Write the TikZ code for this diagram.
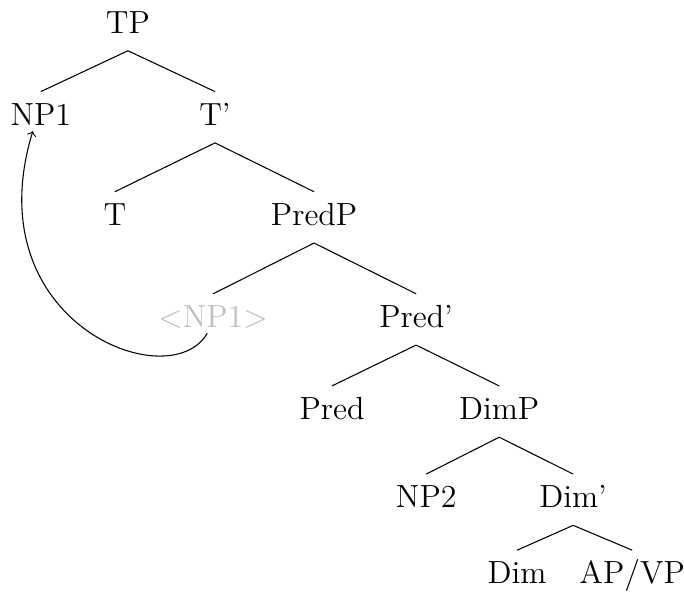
\documentclass[tikz,border=0pt]{standalone}
\usepackage{tikz}
\usetikzlibrary{positioning}

\begin{document}
\begin{tikzpicture}[
    on grid,
    every node/.style={font=\large, inner sep=4pt, text height=8.4pt, text depth=2.4pt},
    trace/.style={text=black!25},
    branch/.style={line width=0.4pt},
    move/.style={->, line width=0.4pt}
]
\useasboundingbox (-47.9pt,9.4pt) rectangle (208.2pt,-214.2pt);
\node (tp) at (0,0) {TP};
\node[below left=34.5pt and 32.6pt of tp] (np1) {NP1};
\node[below right=34.5pt and 32.6pt of tp] (tbar) {T'};
\node[below left=37.5pt and 37.5pt of tbar] (t) {T};
\node[below right=37.5pt and 37.1pt of tbar] (predp) {PredP};
\node[trace, below left=38.2pt and 37.8pt of predp] (np1trace) {$<$NP1$>$};
\node[below right=38.2pt and 38.2pt of predp] (predbar) {Pred'};
\node[below left=34.5pt and 31.5pt of predbar] (pred) {Pred};
\node[below right=34.5pt and 31.1pt of predbar] (dimp) {DimP};
\node[below left=33pt and 27.3pt of dimp] (np2) {NP2};
\node[below right=33pt and 27.7pt of dimp] (dimbar) {Dim'};
\node[below left=28.5pt and 21pt of dimbar] (dim) {Dim};
\node[below right=28.5pt and 22.1pt of dimbar] (apvp) {AP/VP};
\draw[branch] (tp.south) -- (np1.north);
\draw[branch] (tp.south) -- (tbar.north);
\draw[branch] (tbar.south) -- (t.north);
\draw[branch] (tbar.south) -- (predp.north);
\draw[branch] (predp.south) -- (np1trace.north);
\draw[branch] (predp.south) -- (predbar.north);
\draw[branch] (predbar.south) -- (pred.north);
\draw[branch] (predbar.south) -- (dimp.north);
\draw[branch] (dimp.south) -- (np2.north);
\draw[branch] (dimp.south) -- (dimbar.north);
\draw[branch] (dimbar.south) -- (dim.north);
\draw[branch] (dimbar.south) -- (apvp.north);
% movement of NP1
\draw[move] ([shift={(-2.2pt,-2.2pt)}]np1trace.base) .. controls +(-120:28pt) and +(-107:75pt) .. ([shift={(-3pt,-2.2pt)}]np1.base);
\end{tikzpicture}
\end{document}
